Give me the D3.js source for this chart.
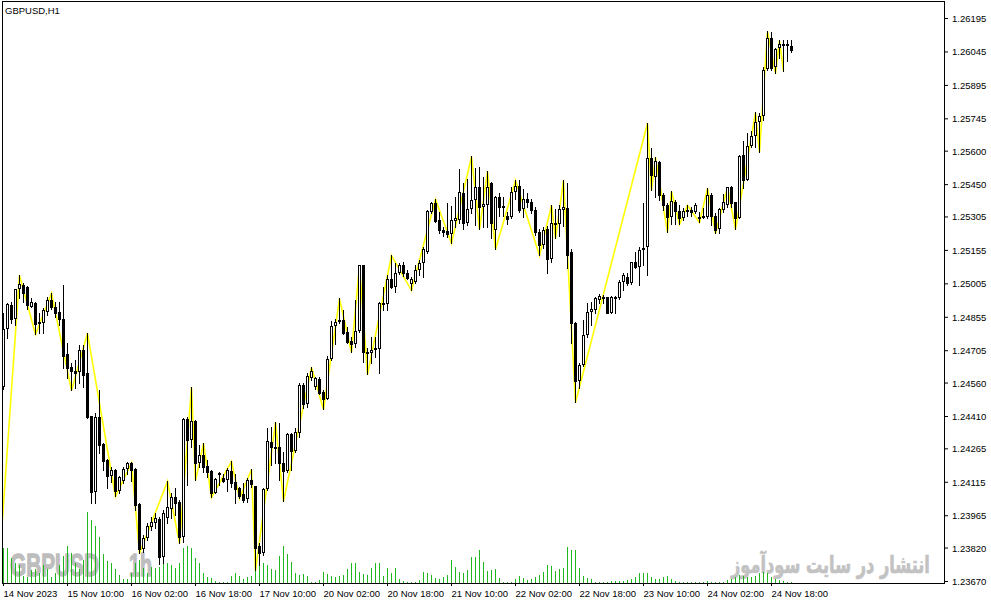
<!DOCTYPE html>
<html><head><meta charset="utf-8">
<script src="https://cdn.jsdelivr.net/npm/d3@7"></script>
<style>html,body{margin:0;padding:0;background:#fff}svg{display:block}</style>
</head><body>
<svg id="chart" width="991" height="605"></svg>
<script>
// ---------------- DATA ----------------
const chartTitle = "GBPUSD,H1";
const watermarkSymbol = "GBPUSD";
const watermarkPeriod = "1h";
const watermarkSite = "انتشار در سایت سودآموز";

const timeLabels = ["14 Nov 2023","15 Nov 10:00","16 Nov 02:00","16 Nov 18:00","17 Nov 10:00","20 Nov 02:00","20 Nov 18:00","21 Nov 10:00","22 Nov 02:00","22 Nov 18:00","23 Nov 10:00","24 Nov 02:00","24 Nov 18:00"];
const timeLabelBar = [0,16,32,48,64,80,96,112,128,144,160,176,192];

const priceTicks = [1.26195,1.26045,1.25895,1.25745,1.25600,1.25450,1.25305,1.25155,1.25005,1.24855,1.24705,1.24560,1.24410,1.24265,1.24115,1.23965,1.23820,1.23670];

const open = [
1.24540,1.24801,1.24908,1.24845,1.24980,1.24998,1.24989,1.24899,1.24917,1.24831,
1.24827,1.24876,1.24930,1.24899,1.24876,1.24845,1.24688,1.24630,1.24612,1.24607,
1.24706,1.24603,1.24410,1.24069,1.24406,1.24284,1.24212,1.24141,1.24168,1.24074,
1.24119,1.24172,1.24199,1.24172,1.24015,1.23814,1.23863,1.23912,1.23930,1.23948,
1.23778,1.23952,1.23993,1.24047,1.24024,1.23867,1.24397,1.24302,1.24388,1.24199,
1.24235,1.24185,1.24163,1.24065,1.24146,1.24132,1.24123,1.24163,1.24114,1.24087,
1.24060,1.24038,1.24123,1.24096,1.23827,1.23796,1.24083,1.24293,1.24271,1.24271,
1.24199,1.24163,1.24329,1.24253,1.24334,1.24549,1.24464,1.24580,1.24540,1.24576,
1.24517,1.24486,1.24666,1.24813,1.24831,1.24840,1.24787,1.24747,1.24733,1.24792,
1.25088,1.24697,1.24693,1.24706,1.24711,1.24912,1.24912,1.25025,1.24989,1.25052,
1.25088,1.25052,1.25002,1.25011,1.25065,1.25096,1.25146,1.25325,1.25366,1.25289,
1.25244,1.25240,1.25226,1.25285,1.25289,1.25411,1.25276,1.25339,1.25379,1.25437,
1.25348,1.25357,1.25455,1.25244,1.25393,1.25352,1.25307,1.25303,1.25415,1.25442,
1.25339,1.25384,1.25370,1.25334,1.25235,1.25177,1.25249,1.25114,1.25271,1.25271,
1.25334,1.25343,1.25146,1.24827,1.24567,1.24639,1.24774,1.24876,1.24885,1.24930,
1.24935,1.24944,1.24872,1.24944,1.24939,1.25011,1.25034,1.25007,1.25101,1.25079,
1.25154,1.25168,1.25567,1.25482,1.25549,1.25402,1.25357,1.25303,1.25370,1.25330,
1.25298,1.25325,1.25334,1.25325,1.25303,1.25303,1.25303,1.25402,1.25307,1.25249,
1.25334,1.25357,1.25437,1.25370,1.25298,1.25581,1.25469,1.25621,1.25666,1.25729,
1.25755,1.25967,1.26105,1.25976,1.26060,1.26074,1.26074,1.26069];

const high = [
1.24872,1.24917,1.24921,1.24980,1.25043,1.25007,1.24993,1.24939,1.24921,1.24872,
1.24894,1.24944,1.24962,1.24921,1.24921,1.24998,1.24738,1.24648,1.24661,1.24729,
1.24729,1.24783,1.24410,1.24424,1.24526,1.24289,1.24217,1.24181,1.24172,1.24141,
1.24181,1.24203,1.24203,1.24177,1.24020,1.23876,1.23930,1.23957,1.23975,1.23957,
1.23988,1.24119,1.24065,1.24087,1.24033,1.24401,1.24406,1.24540,1.24392,1.24280,
1.24289,1.24212,1.24168,1.24132,1.24159,1.24150,1.24177,1.24208,1.24150,1.24092,
1.24110,1.24132,1.24172,1.24096,1.23841,1.24087,1.24356,1.24361,1.24383,1.24379,
1.24248,1.24334,1.24334,1.24356,1.24558,1.24558,1.24603,1.24630,1.24585,1.24585,
1.24526,1.24679,1.24836,1.24845,1.24939,1.24885,1.24809,1.24765,1.24930,1.25088,
1.25088,1.24715,1.24765,1.24765,1.24921,1.24989,1.25043,1.25132,1.25096,1.25096,
1.25101,1.25065,1.25034,1.25088,1.25110,1.25168,1.25334,1.25370,1.25384,1.25325,
1.25258,1.25366,1.25352,1.25393,1.25518,1.25455,1.25473,1.25576,1.25522,1.25527,
1.25482,1.25509,1.25460,1.25397,1.25411,1.25393,1.25325,1.25437,1.25469,1.25469,
1.25428,1.25411,1.25384,1.25348,1.25249,1.25258,1.25262,1.25357,1.25339,1.25357,
1.25469,1.25455,1.25159,1.24831,1.24648,1.24840,1.24917,1.24921,1.24944,1.24957,
1.24953,1.24944,1.24948,1.24948,1.25020,1.25052,1.25052,1.25101,1.25146,1.25168,
1.25366,1.25725,1.25612,1.25572,1.25553,1.25411,1.25366,1.25420,1.25379,1.25357,
1.25343,1.25357,1.25348,1.25366,1.25325,1.25343,1.25433,1.25411,1.25321,1.25343,
1.25406,1.25437,1.25442,1.25370,1.25581,1.25644,1.25680,1.25689,1.25773,1.25769,
1.25976,1.26137,1.26132,1.26060,1.26096,1.26096,1.26096,1.26096];

const low = [
1.24530,1.24760,1.24827,1.24818,1.24939,1.24921,1.24890,1.24899,1.24778,1.24783,
1.24783,1.24863,1.24890,1.24854,1.24818,1.24625,1.24580,1.24526,1.24535,1.24558,
1.24540,1.24401,1.24020,1.24020,1.24244,1.24168,1.24087,1.24114,1.24051,1.24065,
1.24110,1.24150,1.24119,1.23988,1.23796,1.23800,1.23854,1.23898,1.23907,1.23746,
1.23751,1.23930,1.23952,1.23966,1.23841,1.23845,1.24101,1.24271,1.24123,1.24181,
1.24159,1.24137,1.24047,1.24065,1.24101,1.24114,1.24074,1.24092,1.24020,1.24042,
1.24024,1.24024,1.24092,1.23719,1.23742,1.23787,1.24078,1.24190,1.24199,1.24123,
1.24029,1.24159,1.24168,1.24248,1.24316,1.24446,1.24451,1.24571,1.24531,1.24509,
1.24441,1.24486,1.24661,1.24733,1.24827,1.24778,1.24738,1.24697,1.24720,1.24787,
1.24652,1.24598,1.24648,1.24675,1.24603,1.24885,1.24885,1.24984,1.24966,1.25047,
1.25038,1.25025,1.24975,1.25007,1.25043,1.25034,1.25141,1.25321,1.25280,1.25231,
1.25217,1.25213,1.25186,1.25258,1.25276,1.25249,1.25267,1.25321,1.25267,1.25249,
1.25258,1.25258,1.25208,1.25159,1.25307,1.25307,1.25271,1.25298,1.25384,1.25325,
1.25303,1.25348,1.25321,1.25222,1.25132,1.25163,1.25052,1.25101,1.25208,1.25217,
1.25262,1.25074,1.24738,1.24473,1.24535,1.24634,1.24765,1.24818,1.24872,1.24917,
1.24917,1.24872,1.24872,1.24872,1.24935,1.24975,1.24998,1.25002,1.25074,1.24998,
1.25088,1.25043,1.25424,1.25393,1.25379,1.25334,1.25235,1.25271,1.25271,1.25271,
1.25289,1.25307,1.25307,1.25321,1.25280,1.25298,1.25298,1.25267,1.25231,1.25231,
1.25325,1.25348,1.25348,1.25249,1.25298,1.25433,1.25469,1.25617,1.25617,1.25594,
1.25738,1.25962,1.25962,1.25949,1.26016,1.25958,1.26003,1.26042];

const close = [
1.24801,1.24912,1.24845,1.24980,1.25002,1.24962,1.24908,1.24921,1.24822,1.24827,
1.24885,1.24930,1.24899,1.24872,1.24845,1.24679,1.24625,1.24612,1.24603,1.24706,
1.24594,1.24406,1.24069,1.24406,1.24280,1.24208,1.24141,1.24168,1.24074,1.24137,
1.24172,1.24199,1.24168,1.24011,1.23814,1.23863,1.23916,1.23934,1.23952,1.23778,
1.23975,1.24002,1.24047,1.24020,1.23867,1.24397,1.24302,1.24388,1.24199,1.24235,
1.24181,1.24159,1.24065,1.24128,1.24155,1.24119,1.24168,1.24110,1.24083,1.24051,
1.24033,1.24123,1.24105,1.23818,1.23796,1.24083,1.24298,1.24271,1.24266,1.24199,
1.24163,1.24329,1.24253,1.24338,1.24549,1.24464,1.24589,1.24612,1.24580,1.24513,
1.24486,1.24666,1.24813,1.24831,1.24840,1.24783,1.24742,1.24733,1.24792,1.25088,
1.24697,1.24693,1.24706,1.24715,1.24917,1.24917,1.25025,1.24989,1.25052,1.25088,
1.25052,1.25029,1.25025,1.25065,1.25096,1.25159,1.25330,1.25366,1.25285,1.25244,
1.25235,1.25226,1.25289,1.25298,1.25415,1.25276,1.25339,1.25379,1.25437,1.25348,
1.25361,1.25437,1.25276,1.25393,1.25348,1.25348,1.25294,1.25415,1.25442,1.25334,
1.25384,1.25370,1.25334,1.25235,1.25177,1.25244,1.25114,1.25276,1.25276,1.25339,
1.25348,1.25132,1.24827,1.24567,1.24639,1.24774,1.24876,1.24890,1.24939,1.24948,
1.24944,1.24872,1.24944,1.24939,1.25011,1.25043,1.25007,1.25101,1.25079,1.25154,
1.25163,1.25567,1.25491,1.25553,1.25402,1.25357,1.25303,1.25375,1.25330,1.25298,
1.25330,1.25334,1.25325,1.25357,1.25298,1.25307,1.25402,1.25307,1.25244,1.25339,
1.25370,1.25437,1.25366,1.25298,1.25576,1.25469,1.25621,1.25666,1.25729,1.25755,
1.25962,1.26105,1.25971,1.26056,1.26078,1.26078,1.26078,1.26051];

const volume = [
3500,3500,2500,2000,1800,700,600,1300,1400,1000,
1800,1400,600,1000,1800,2700,3700,3000,2000,1400,
2300,7100,6300,5700,4600,2900,2200,2000,1400,800,
400,400,1000,2000,2300,1500,1000,1600,1500,1600,
2200,2000,1800,1500,2000,3500,3700,3500,2500,2000,
1000,600,500,200,100,100,100,700,1000,700,
400,600,700,1300,2200,2000,1800,1400,1300,2700,
3700,2900,2100,1000,800,900,700,100,100,300,
1100,900,700,600,700,800,1400,2000,2000,1100,
900,800,1500,2000,2000,700,1500,1000,1500,400,
200,100,100,100,300,1100,1000,800,500,400,
600,800,2300,1600,1100,1000,1300,2600,2600,3300,
2100,1200,1300,1400,500,100,100,100,400,700,
500,300,400,600,800,1100,1800,1700,1200,1400,
1500,3600,3300,3300,1500,700,500,400,100,100,
100,100,200,200,200,200,300,400,600,1000,
1000,1000,600,400,400,600,700,400,200,100,
100,100,100,100,100,100,200,100,100,100,
100,300,400,600,800,700,600,600,700,1000,
1100,1000,600,400,300,200,100,100];

// yellow zigzag line: bar index and price of each turning point
const zigzagBar = [-1,4,8,12,17,21,28,32,34,41,44,47,48,50,52,57,59,62,63,68,70,77,80,84,87,89,91,97,102,108,112,117,119,121,123,128,134,137,138,140,143,161,162,163,166,167,169,171,174,176,178,181,183,188,189,191,193,194,195];
const zigzagPrice = [1.23760,1.25043,1.24778,1.24962,1.24526,1.24783,1.24051,1.24203,1.23796,1.24119,1.23841,1.24540,1.24123,1.24289,1.24047,1.24208,1.24042,1.24172,1.23719,1.24383,1.24029,1.24630,1.24441,1.24939,1.24697,1.25088,1.24598,1.25132,1.24975,1.25384,1.25186,1.25576,1.25249,1.25509,1.25159,1.25469,1.25132,1.25357,1.25208,1.25469,1.24473,1.25725,1.25424,1.25572,1.25235,1.25420,1.25271,1.25357,1.25280,1.25433,1.25231,1.25437,1.25249,1.25773,1.25594,1.26137,1.25949,1.26096,1.25958];

// ---------------- DRAWING ----------------
const svg = d3.select("#chart");
const FRAME = {l: 2, r: 944, t: 1, b: 583};
const FONT = "'Liberation Sans', Arial, sans-serif";

const x = d3.scaleLinear().domain([0, open.length - 1]).range([3, 3 + 4 * (open.length - 1)]);
const y = d3.scaleLinear().domain([1.23670, 1.26195]).range([581, 18]);
const vScale = d3.scaleLinear().domain([0, d3.max(volume)]).range([0, 71]);
const px = i => Math.round(x(i));
const py = v => Math.round(y(v));

svg.append("rect").attr("width", 991).attr("height", 605).attr("fill", "#ffffff");

svg.append("defs").append("clipPath").attr("id", "plotClip")
  .append("rect").attr("x", FRAME.l + 1).attr("y", FRAME.t + 1)
  .attr("width", FRAME.r - FRAME.l - 1).attr("height", FRAME.b - FRAME.t - 1);

// watermarks (scaled horizontally to the width they take in the picture)
function fitText(sel, left, baseline, width, vStretch) {
  const w = sel.node().getComputedTextLength();
  const sx = w > 0 ? width / w : 1;
  sel.attr("x", 0).attr("y", 0)
     .attr("transform", `translate(${left},${baseline}) scale(${sx},${vStretch})`);
}
const wm = svg.append("g").attr("font-family", FONT).attr("font-weight", "bold")
  .attr("fill", "#bdbdbd").attr("stroke", "#bdbdbd").attr("stroke-width", 1.3).attr("stroke-linejoin", "round");
fitText(wm.append("text").attr("font-size", 31).text(watermarkSymbol), 10, 576, 89, 1);
fitText(wm.append("text").attr("font-size", 31).text(watermarkPeriod), 129, 576, 23, 1);

const site = svg.append("g").append("text")
  .attr("font-family", "'DejaVu Sans', sans-serif").attr("font-weight", "bold")
  .attr("fill", "#c2c2c2").attr("stroke", "#c2c2c2").attr("stroke-width", 0.6)
  .attr("font-size", 20).text(watermarkSite);
fitText(site, 731, 573, 199, 1.2);

// volumes
svg.append("g").attr("shape-rendering", "crispEdges")
  .selectAll("rect").data(volume).join("rect")
  .attr("x", (d, i) => px(i)).attr("width", 1)
  .attr("y", d => FRAME.b - Math.round(vScale(d)))
  .attr("height", d => Math.round(vScale(d)))
  .attr("fill", "#1fb81f");

// zigzag
const zz = zigzagBar.map((b, i) => [b, zigzagPrice[i]]);
svg.append("path").datum(zz)
  .attr("clip-path", "url(#plotClip)")
  .attr("d", d3.line().x(d => x(d[0]) + 0.5).y(d => y(d[1]) + 0.5))
  .attr("fill", "none").attr("stroke", "#ffff00").attr("stroke-width", 1.6);

// candles
const bars = d3.range(open.length);
const cg = svg.append("g").attr("shape-rendering", "crispEdges");
cg.selectAll("rect.wick").data(bars).join("rect").attr("class", "wick")
  .attr("x", i => px(i)).attr("width", 1)
  .attr("y", i => py(high[i]))
  .attr("height", i => py(low[i]) - py(high[i]) + 1)
  .attr("fill", "#000");
cg.selectAll("rect.body").data(bars).join("rect").attr("class", "body")
  .each(function(i) {
    const top = py(Math.max(open[i], close[i]));
    const bot = py(Math.min(open[i], close[i]));
    const el = d3.select(this);
    if (close[i] >= open[i] && bot - top >= 2) {
      el.attr("x", px(i) - 0.5).attr("y", top + 0.5).attr("width", 2).attr("height", bot - top - 1)
        .attr("fill", "#ffffff").attr("stroke", "#000").attr("stroke-width", 1);
    } else {
      el.attr("x", px(i) - 1).attr("y", top).attr("width", 3).attr("height", Math.max(1, bot - top + 1))
        .attr("fill", "#000");
    }
  });

// frame
svg.append("rect").attr("x", FRAME.l + 0.5).attr("y", FRAME.t + 0.5)
  .attr("width", FRAME.r - FRAME.l).attr("height", FRAME.b - FRAME.t)
  .attr("fill", "none").attr("stroke", "#000").attr("shape-rendering", "crispEdges");

// right price axis
const ya = svg.append("g").attr("transform", `translate(${FRAME.r},0)`)
  .call(d3.axisRight(y).tickValues(priceTicks).tickSize(4).tickFormat(d3.format(".5f")));
ya.select(".domain").remove();
ya.selectAll("line").attr("stroke", "#000");
ya.selectAll("text").attr("x", 8).attr("dy", null)
  .attr("y", 3.5).attr("font-family", FONT).attr("font-size", 9.5).attr("fill", "#000");

// bottom time axis
const xa = svg.append("g").attr("transform", `translate(0,${FRAME.b})`)
  .call(d3.axisBottom(x).tickValues(timeLabelBar).tickSize(3).tickFormat((d, i) => timeLabels[i]));
xa.select(".domain").remove();
xa.selectAll("line").attr("stroke", "#000");
xa.selectAll("text").attr("text-anchor", "start").attr("x", 0).attr("dy", null)
  .attr("y", 14).attr("font-family", FONT).attr("font-size", 9.5).attr("fill", "#000");

// title
svg.append("text").attr("x", 5).attr("y", 14).attr("font-family", FONT).attr("font-size", 9.5)
  .attr("fill", "#000").text(chartTitle);
</script>
</body></html>
